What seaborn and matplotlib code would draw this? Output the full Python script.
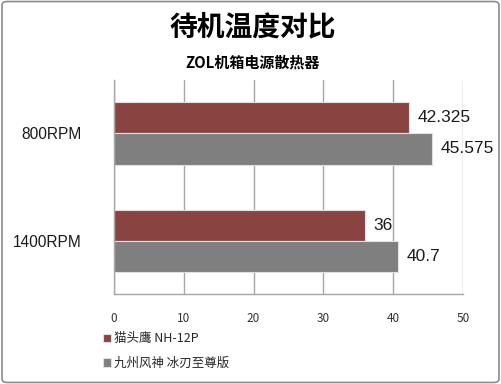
import matplotlib
matplotlib.use("Agg")
import matplotlib.pyplot as plt
import seaborn as sns
import pandas as pd
from matplotlib.patches import FancyBboxPatch

categories = ["800RPM", "1400RPM"]
series_names = ["猫头鹰 NH-12P", "九州风神 冰刃至尊版"]
values_a = [42.325, 36]
values_b = [45.575, 40.7]
value_labels_a = ["42.325", "36"]
value_labels_b = ["45.575", "40.7"]
x_ticks = [0, 10, 20, 30, 40, 50]
colors = ["#953735", "#7f7f7f"]

sns.set_theme(style="white")
plt.rcParams['font.family'] = ['Noto Sans CJK SC', 'DejaVu Sans']

df = pd.DataFrame({
    "cat": categories * 2,
    "series": [series_names[0]] * 2 + [series_names[1]] * 2,
    "val": values_a + values_b,
})

fig = plt.figure(figsize=(5.01, 3.84), dpi=100)
ax = fig.add_axes([0.2275, 0.234, 0.6965, 0.558])

sns.barplot(data=df, y="cat", x="val", hue="series", orient="h",
            palette=colors, width=0.58, ax=ax, edgecolor="#e0e0e0",
            linewidth=0.8, legend=True, order=categories, hue_order=series_names)

for cont, labs in zip(ax.containers, [value_labels_a, value_labels_b]):
    ax.bar_label(cont, labels=labs, padding=6, fontsize=12.5, color="#1a1a1a",
                 family=['Liberation Sans', 'DejaVu Sans'])

ax.set_xlim(0, 50)
ax.set_ylim(1.5, -0.5)
ax.set_xticks(x_ticks)
ax.set_xticklabels([str(t) for t in x_ticks], fontsize=8.5, color="#333333")
ax.set_yticklabels(categories, fontsize=11.2, color="#1a1a1a",
                   family=['Liberation Sans', 'DejaVu Sans'])
ax.set_xlabel("")
ax.set_ylabel("")
ax.grid(axis="x", color="#a6a6a6", linewidth=1)
ax.set_axisbelow(True)
for s in ["top", "right"]:
    ax.spines[s].set_visible(False)
for s in ["left", "bottom"]:
    ax.spines[s].set_color("#a6a6a6")
    ax.spines[s].set_linewidth(1)
ax.tick_params(axis="x", length=4, color="#a6a6a6", direction="inout", pad=11)
ax.tick_params(axis="y", length=0, pad=23)

leg = ax.legend(loc="upper left", bbox_to_anchor=(-0.065, -0.125), frameon=False,
                fontsize=9, handlelength=0.65, handleheight=0.65, handletextpad=0.3,
                labelspacing=0.95)

fig.text(0.505, 0.93, "待机温度对比", ha="center", va="center", fontsize=20,
         fontweight="bold", color="black")
fig.text(0.505, 0.838, "ZOL机箱电源散热器", ha="center", va="center", fontsize=10.8,
         fontweight="bold", color="black")

border = FancyBboxPatch((0.004, 0.004), 0.992, 0.992, boxstyle="round,pad=0,rounding_size=0.01",
                        transform=fig.transFigure, fill=False, edgecolor="#8c8c8c", linewidth=1.2)
fig.patches.append(border)

fig.savefig("out.png", dpi=100)
